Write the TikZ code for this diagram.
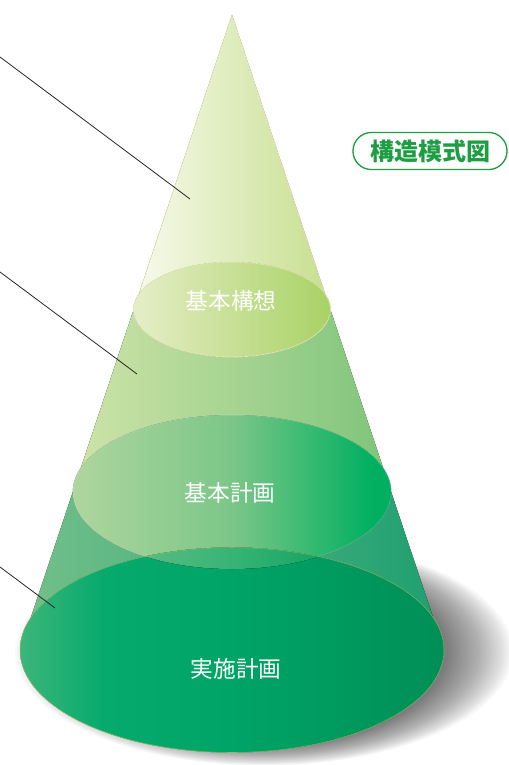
\documentclass[tikz,border=0pt]{standalone}
\usepackage{fontspec}
\newfontfamily\cjk{Noto Sans CJK JP}
\definecolor{bAL}{HTML}{F8FAEC}
\definecolor{bAR}{HTML}{C6DF8E}
\definecolor{eAL}{HTML}{E6EEC8}
\definecolor{eAR}{HTML}{A8D264}
\definecolor{bBL}{HTML}{CEE4A8}
\definecolor{bBR}{HTML}{7EC47A}
\definecolor{eBL}{HTML}{AED69E}
\definecolor{eBM}{HTML}{7CC688}
\definecolor{eBR}{HTML}{00B060}
\definecolor{bCL}{HTML}{74C08A}
\definecolor{bCR}{HTML}{1E9F70}
\definecolor{eCL}{HTML}{3DB57A}
\definecolor{eCA}{HTML}{05AA6C}
\definecolor{eCM}{HTML}{00A466}
\definecolor{eCR}{HTML}{008F56}
\colorlet{lnL}{eBL!45!eCL}
\colorlet{lnM}{eBM!45!eCM}
\colorlet{lnR}{eBR!40!eCR}
\definecolor{labgreen}{HTML}{1E9E42}
\definecolor{rimA}{HTML}{ECE6B8}
\definecolor{rimC}{HTML}{A8C870}
\pgfdeclarehorizontalshading{shA}{100bp}{color(0bp)=(bAL); color(25bp)=(bAL); color(75bp)=(bAR); color(100bp)=(bAR)}
\pgfdeclarehorizontalshading{shEA}{100bp}{color(0bp)=(eAL); color(25bp)=(eAL); color(75bp)=(eAR); color(100bp)=(eAR)}
\pgfdeclarehorizontalshading{shB}{100bp}{color(0bp)=(bBL); color(25bp)=(bBL); color(75bp)=(bBR); color(100bp)=(bBR)}
\pgfdeclarehorizontalshading{shEB}{100bp}{color(0bp)=(eBL); color(25bp)=(eBL); color(50bp)=(eBM); color(72bp)=(eBR); color(75bp)=(eBR); color(100bp)=(eBR)}
\pgfdeclarehorizontalshading{shLN}{100bp}{color(0bp)=(lnL); color(25bp)=(lnL); color(50bp)=(lnM); color(72bp)=(lnR); color(75bp)=(lnR); color(100bp)=(lnR)}
\pgfdeclarehorizontalshading{shC}{100bp}{color(0bp)=(bCL); color(25bp)=(bCL); color(75bp)=(bCR); color(100bp)=(bCR)}
\pgfdeclarehorizontalshading{shEC}{100bp}{color(0bp)=(eCL); color(25bp)=(eCL); color(35bp)=(eCA); color(50bp)=(eCM); color(75bp)=(eCR); color(100bp)=(eCR)}
\begin{document}
\begin{tikzpicture}[x=0.75pt,y=-0.75pt,
  intxt/.style={text=white,font=\cjk\fontsize{17pt}{20pt}\selectfont,inner sep=0pt},
  leader/.style={draw=black!85,line width=0.6pt},
  pill/.style={draw=labgreen,line width=1pt,rounded corners=13.8pt,minimum width=115.5pt,minimum height=27.8pt,text=labgreen,inner sep=0pt,font=\cjk\bfseries\fontsize{18pt}{20pt}\selectfont}]
\useasboundingbox (0,0) rectangle (509,765);
% shadow
\foreach \i in {0,...,41}{
  \fill[black,fill opacity=0.02] (264,652) ellipse [x radius={249-1.9*\i}, y radius={102.5+0.3*(37-1.9*\i)}];
}
% cone bands
\coordinate (apex) at (232,15);
\coordinate (aL) at (133.5,310);
\coordinate (aR) at (330.5,310);
\coordinate (bL) at (72.8,492);
\coordinate (bR) at (391.2,492);
\coordinate (cL) at (20,650);
\coordinate (cR) at (444,650);
\fill[shading=shA] (apex) -- (aR) -- (aL) -- cycle;
\fill[shading=shB] (aL) -- (aR) -- (bR) -- (bL) -- cycle;
\fill[shading=shC] (bL) -- (bR) -- (cR) -- (cL) -- cycle;
\draw[rimA,line width=0.5pt,draw opacity=0.7] (aL) -- (apex) -- (aR);
% ellipses
\fill[shading=shEA] (232,309.5) ellipse [x radius=98.5, y radius=47.5];
\draw[rimA,line width=0.5pt] (232,309.5) ellipse [x radius=98.5, y radius=47.5];
\fill[shading=shEB] (232,492) ellipse [x radius=159.2, y radius=77];
\draw[white,line width=0.4pt,draw opacity=0.35] (232,492) ellipse [x radius=159.2, y radius=77];
\fill[shading=shEC] (232,650) ellipse [x radius=212, y radius=102.5];
\begin{scope}
  \clip (232,650) ellipse [x radius=212, y radius=102.5];
  \fill[shading=shLN] (232,492) ellipse [x radius=159.2, y radius=77];
\end{scope}
\draw[rimC,line width=0.4pt,draw opacity=0.8] (232,650) ellipse [x radius=212, y radius=102.5];
% leader lines
\coordinate (p1a) at (0,57);
\coordinate (p1b) at (190,199);
\coordinate (p2a) at (0,272);
\coordinate (p2b) at (137,374);
\coordinate (p3a) at (0,567);
\coordinate (p3b) at (55,608);
\draw[leader] (p1a) -- (p1b);
\draw[leader] (p2a) -- (p2b);
\draw[leader] (p3a) -- (p3b);
% texts
\node[intxt] (t1) at (231,301) {基本構想};
\node[intxt] (t2) at (230,493) {基本計画};
\node[intxt] (t3) at (236,669) {実施計画};
\node[pill] (lab) at (430,151) {構造模式図};
\end{tikzpicture}
\end{document}
